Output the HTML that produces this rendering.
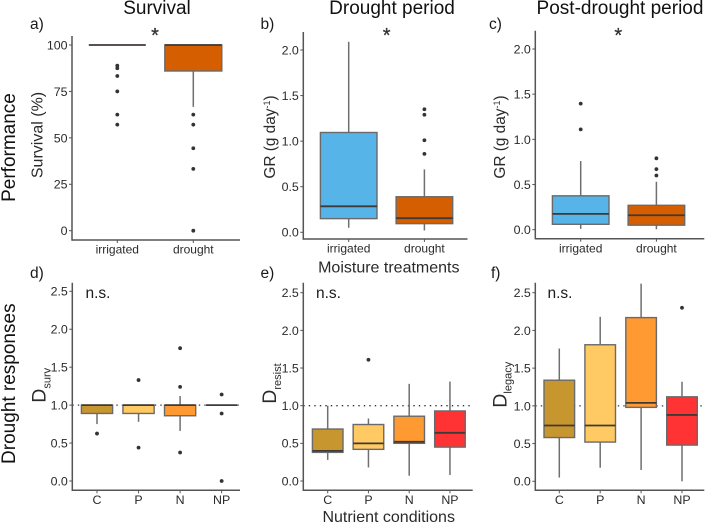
<!DOCTYPE html>
<html lang="en">
<head>
<meta charset="utf-8">
<title>Survival and drought response box plots</title>
<style>
html,body{margin:0;padding:0;background:#fff;width:708px;height:524px;overflow:hidden}
svg{display:block;filter:blur(0.35px)}
text{font-family:"Liberation Sans",sans-serif;fill:#222}
.tick{font-size:12.4px;fill:#2a2a2a}
.tick-x{font-size:12px;fill:#2a2a2a}
.title{font-size:19px;text-anchor:middle;fill:#111}
.side{font-size:19px;text-anchor:middle;fill:#111}
.xt{font-size:16px;text-anchor:middle;fill:#2a2a2a}
.yt{font-size:16px;fill:#2a2a2a}
.tag{font-size:15.5px;fill:#1a1a1a}
.ns{font-size:15.5px;fill:#1a1a1a}
.star{font-size:20px;text-anchor:middle;fill:#333;stroke:#333;stroke-width:0.3px}
</style>
</head>
<body>
<svg id="fig" xmlns="http://www.w3.org/2000/svg" width="708" height="524" viewBox="0 0 708 524">
  <rect width="708" height="524" fill="#fff"/>

  <text class="title" x="157" y="14">Survival</text>
  <text class="title" x="392" y="14">Drought period</text>
  <text class="title" x="620" y="14">Post-drought period</text>

  <text class="side" transform="translate(15,147.5) rotate(-90)">Performance</text>
  <text class="side" transform="translate(15,383.7) rotate(-90)">Drought responses</text>

  <text class="tag" x="30" y="29">a)</text>
  <text class="tag" x="260.5" y="29">b)</text>
  <text class="tag" x="489" y="29">c)</text>
  <text class="tag" x="30" y="278">d)</text>
  <text class="tag" x="260.5" y="278">e)</text>
  <text class="tag" x="491" y="278">f)</text>

  <g id="panel-a"></g>
  <g id="panel-b"></g>
  <g id="panel-c"></g>
  <g id="panel-d"></g>
  <g id="panel-e"></g>
  <g id="panel-f"></g>

  <text class="star" x="155" y="42">*</text>
  <text class="star" x="386.7" y="42">*</text>
  <text class="star" x="618.3" y="42">*</text>
  <text class="ns" x="85.5" y="298">n.s.</text>
  <text class="ns" x="316" y="298">n.s.</text>
  <text class="ns" x="547.5" y="298">n.s.</text>

  <text class="xt" x="388.8" y="272.5">Moisture treatments</text>
  <text class="xt" x="388.7" y="522">Nutrient conditions</text>

  <text class="yt" text-anchor="middle" transform="translate(42.5,135) rotate(-90)">Survival (%)</text>
  <text class="yt" text-anchor="middle" style="font-size:15.4px" transform="translate(275,137) rotate(-90)">GR (g day<tspan font-size="9" dy="-5">-1</tspan><tspan dy="5">)</tspan></text>
  <text class="yt" text-anchor="middle" style="font-size:15.4px" transform="translate(505,137) rotate(-90)">GR (g day<tspan font-size="9" dy="-5">-1</tspan><tspan dy="5">)</tspan></text>
  <text class="yt" style="font-size:19.5px" transform="translate(45.5,402.7) rotate(-90)">D<tspan font-size="11" dy="5">surv</tspan></text>
  <text class="yt" style="font-size:19.5px" transform="translate(276,403.7) rotate(-90)">D<tspan font-size="11" dy="5">resist</tspan></text>
  <text class="yt" style="font-size:19.5px" transform="translate(506.5,407.7) rotate(-90)">D<tspan font-size="11" dy="5">legacy</tspan></text>
</svg>
<script>
// ---- categories and tick labels ----
const moistureCategories = ['irrigated', 'drought'];
const nutrientCategories = ['C', 'P', 'N', 'NP'];
const survivalTicks = [0, 25, 50, 75, 100];
const growthTicks = ['0.0', '0.5', '1.0', '1.5', '2.0'];
const responseTicks = ['0.0', '0.5', '1.0', '1.5', '2.0', '2.5'];

// ---- panel a: survival ----
const aLow = [100, 66.7];
const aQ1 = [100, 86];
const aMed = [100, 100];
const aQ3 = [100, 100];
const aHigh = [100, 100];
const aOutliers = [[88.9, 87.5, 83.3, 75, 62.5, 57.1], [62.5, 57.1, 44.4, 33.3, 0]];

// ---- panel b: growth, drought period ----
const bLow = [0.05, 0.02];
const bQ1 = [0.15, 0.095];
const bMed = [0.285, 0.155];
const bQ3 = [1.095, 0.39];
const bHigh = [2.09, 0.69];
const bOutliers = [[], [0.86, 1.01, 1.29, 1.35]];

// ---- panel c: growth, post-drought period ----
const cLow = [0.01, 0.005];
const cQ1 = [0.06, 0.05];
const cMed = [0.175, 0.16];
const cQ3 = [0.375, 0.27];
const cHigh = [0.76, 0.53];
const cOutliers = [[1.11, 1.395], [0.6, 0.67, 0.79]];

// ---- panel d: D surv ----
const dLow = [0.75, 0.78, 0.66, 1];
const dQ1 = [0.89, 0.89, 0.86, 1];
const dMed = [1, 1, 1, 1];
const dQ3 = [1, 1, 1, 1];
const dHigh = [1, 1, 1.12, 1];
const dOutliers = [[0.625], [0.44, 1.33], [0.375, 1.24, 1.75], [0, 0.89, 1.14]];

// ---- panel e: D resist ----
const eLow = [0.28, 0.18, 0.07, 0.08];
const eQ1 = [0.38, 0.42, 0.5, 0.45];
const eMed = [0.4, 0.5, 0.52, 0.64];
const eQ3 = [0.69, 0.75, 0.86, 0.93];
const eHigh = [1.0, 0.83, 1.29, 1.32];
const eOutliers = [[], [1.61], [], []];

// ---- panel f: D legacy ----
const fLow = [0.05, 0.18, 0.15, 0];
const fQ1 = [0.58, 0.52, 0.98, 0.48];
const fMed = [0.74, 0.74, 1.04, 0.88];
const fQ3 = [1.34, 1.81, 2.17, 1.12];
const fHigh = [1.76, 2.18, 2.62, 1.32];
const fOutliers = [[], [], [], [2.3]];

const moistureColors = ['#56B4E9', '#D55E00'];
const nutrientColors = ['#C8962E', '#FFC964', '#FF9932', '#FF3333'];

const NS = 'http://www.w3.org/2000/svg';

function shape(parent, tag) {
  const el = document.createElementNS(NS, tag);
  parent.appendChild(el);
  return el;
}

function line(el, x1, y1, x2, y2, color, width) {
  el.setAttribute('x1', x1);
  el.setAttribute('y1', y1);
  el.setAttribute('x2', x2);
  el.setAttribute('y2', y2);
  el.setAttribute('stroke', color);
  el.setAttribute('stroke-width', width);
}

function drawPanel(id, p, cats, colors, ticks, low, q1, med, q3, high, outliers) {
  const g = document.getElementById(id);
  const yScale = function (v) { return p.y0 + (p.yRef - p.y0) * (v / p.vRef); };
  const xScale = function (i) { return p.xFirst + i * p.xStep; };

  if (p.refLine !== undefined) {
    const ref = shape(g, 'line');
    
    
    line(ref, p.left, yScale(p.refLine), p.right, yScale(p.refLine), '#333', 1.3);
    ref.setAttribute('stroke-dasharray', '1.4 4.1');
  }

  cats.forEach(function (cat, i) {
    const x = xScale(i);
    const whiskerLow = shape(g, 'line');
    
    
    line(whiskerLow, x, yScale(q1[i]), x, yScale(low[i]), '#6f6f6f', 1.5);

    const whiskerHigh = shape(g, 'line');
    
    
    line(whiskerHigh, x, yScale(q3[i]), x, yScale(high[i]), '#6f6f6f', 1.5);

    if (q3[i] !== q1[i]) {
      const box = shape(g, 'rect');
      
      
      box.setAttribute('x', x - p.half);
      box.setAttribute('y', yScale(q3[i]));
      box.setAttribute('width', p.half * 2);
      box.setAttribute('height', yScale(q1[i]) - yScale(q3[i]));
      box.setAttribute('fill', colors[i]);
      box.setAttribute('stroke', '#6a6a6a');
      box.setAttribute('stroke-width', 1.4);
    }

    const median = shape(g, 'line');
    
    
    line(median, x - p.half, yScale(med[i]), x + p.half, yScale(med[i]), '#3f3a36', 1.8);

    outliers[i].forEach(function (v) {
      const dot = shape(g, 'circle');
      
      
      dot.setAttribute('cx', x);
      dot.setAttribute('cy', yScale(v));
      dot.setAttribute('r', 1.9);
      dot.setAttribute('fill', '#333');
    });

    const tk = shape(g, 'line');
    
    
    line(tk, x, p.bottom, x, p.bottom + 3, '#555', 1);

    const lab = shape(g, 'text');
    
    
    lab.setAttribute('class', cats.length === 2 ? 'tick-x' : 'tick');
    lab.setAttribute('x', x);
    lab.setAttribute('y', p.bottom + 13.7);
    lab.setAttribute('text-anchor', 'middle');
    lab.textContent = cat;
  });

  ticks.forEach(function (t) {
    const y = yScale(parseFloat(t));
    const tk = shape(g, 'line');
    
    
    line(tk, p.left - 3, y, p.left, y, '#555', 1);

    const lab = shape(g, 'text');
    
    
    lab.setAttribute('class', 'tick');
    lab.setAttribute('x', p.left - 4.5);
    lab.setAttribute('y', y + 4.4);
    lab.setAttribute('text-anchor', 'end');
    lab.textContent = t;
  });

  const yAxis = shape(g, 'line');
  
  
  line(yAxis, p.left, p.top, p.left, p.bottom + 0.7, '#555', 1.5);

  const xAxis = shape(g, 'line');
  
  
  line(xAxis, p.left, p.bottom, p.right, p.bottom, '#555', 1.5);
}

drawPanel('panel-a', {left: 72, right: 240, top: 36, bottom: 240, y0: 230.7, yRef: 45, vRef: 100, xFirst: 117.3, xStep: 76, half: 28.5},
  moistureCategories, moistureColors, survivalTicks, aLow, aQ1, aMed, aQ3, aHigh, aOutliers);
drawPanel('panel-b', {left: 303.3, right: 467.5, top: 32, bottom: 239, y0: 232.3, yRef: 50, vRef: 2, xFirst: 348.7, xStep: 75.7, half: 28.3},
  moistureCategories, moistureColors, growthTicks, bLow, bQ1, bMed, bQ3, bHigh, bOutliers);
drawPanel('panel-c', {left: 535.3, right: 704.3, top: 30.7, bottom: 238.7, y0: 229.7, yRef: 49, vRef: 2, xFirst: 580.7, xStep: 75.7, half: 28.3},
  moistureCategories, moistureColors, growthTicks, cLow, cQ1, cMed, cQ3, cHigh, cOutliers);
drawPanel('panel-d', {left: 72.3, right: 240, top: 282.7, bottom: 490.3, y0: 481, yRef: 291.3, vRef: 2.5, xFirst: 97, xStep: 41.55, half: 15.6, refLine: 1},
  nutrientCategories, nutrientColors, responseTicks, dLow, dQ1, dMed, dQ3, dHigh, dOutliers);
drawPanel('panel-e', {left: 303.3, right: 472.7, top: 282.7, bottom: 490.3, y0: 481, yRef: 292.7, vRef: 2.5, xFirst: 327.7, xStep: 40.75, half: 15.3, refLine: 1},
  nutrientCategories, nutrientColors, responseTicks, eLow, eQ1, eMed, eQ3, eHigh, eOutliers);
drawPanel('panel-f', {left: 535.3, right: 704.3, top: 282.7, bottom: 490.3, y0: 481.3, yRef: 292.7, vRef: 2.5, xFirst: 559.3, xStep: 40.9, half: 15.3, refLine: 1},
  nutrientCategories, nutrientColors, responseTicks, fLow, fQ1, fMed, fQ3, fHigh, fOutliers);
</script>
</body>
</html>
